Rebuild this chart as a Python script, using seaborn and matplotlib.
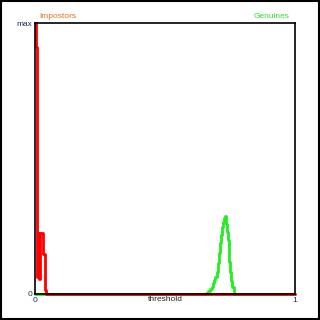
import matplotlib
matplotlib.use("Agg")
import matplotlib.pyplot as plt
import seaborn as sns
import pandas as pd
from matplotlib.patches import Rectangle

# Impostor score distribution (normalised to max)
imp_thr = [0.0, 0.004, 0.008, 0.012, 0.015, 0.019, 0.023, 0.027, 0.031, 0.035, 0.038, 0.042, 0.046, 1.0]
imp_val = [1.0, 0.91, 0.063, 0.225, 0.055, 0.225, 0.225, 0.225, 0.148, 0.148, 0.015, 0.0, 0.0, 0.0]

# Genuine score distribution (normalised to impostor max)
gen_thr = [0.0, 0.658, 0.666, 0.673, 0.679, 0.683, 0.687, 0.694, 0.700, 0.702, 0.707, 0.712,
           0.715, 0.718, 0.723, 0.728, 0.731, 0.734, 0.735, 0.738, 0.743, 0.746, 0.748,
           0.751, 0.754, 0.758, 0.764, 0.766, 1.0]
gen_val = [0.0, 0.003, 0.011, 0.018, 0.027, 0.042, 0.052, 0.064, 0.082, 0.113, 0.15, 0.187,
           0.218, 0.248, 0.267, 0.279, 0.286, 0.279, 0.26, 0.23, 0.2, 0.162, 0.119,
           0.082, 0.049, 0.027, 0.009, 0.0, 0.0]

x_ticks = [0, 1]
x_ticklabels = ["0", "1"]
y_ticks = [0, 1]
y_ticklabels = ["0", "max"]

sns.set_theme(style="white")
plt.rcParams['font.family'] = ['Liberation Sans', 'DejaVu Sans']

fig = plt.figure(figsize=(3.2, 3.2), dpi=100)
fig.patch.set_facecolor("white")
ax = fig.add_axes([35/320, 1 - 294/320, 260/320, 271/320])

gen_df = pd.DataFrame({"threshold": gen_thr, "value": gen_val})
imp_df = pd.DataFrame({"threshold": imp_thr, "value": imp_val})

sns.lineplot(data=gen_df, x="threshold", y="value", ax=ax, color="#22EE22",
             linewidth=2.0, drawstyle="steps-post", sort=False, clip_on=False)
sns.lineplot(data=imp_df, x="threshold", y="value", ax=ax, color="#FF0000",
             linewidth=2.0, drawstyle="steps-post", sort=False, clip_on=False)

ax.set_xlim(0, 1)
ax.set_ylim(0, 1)
ax.set_xticks(x_ticks)
ax.set_xticklabels(x_ticklabels, fontsize=6, color="#1a2a5a")
ax.set_yticks(y_ticks)
ax.set_yticklabels(y_ticklabels, fontsize=6, color="#1a2a5a")
ax.tick_params(axis="both", length=0, pad=2)
ax.set_xlabel("threshold", fontsize=6, labelpad=-5.3, color="#222222")
ax.set_ylabel("")
for s in ax.spines.values():
    s.set_color("black")
    s.set_linewidth(1.2)

ax.text(0.015, 1.01, "Impostors", transform=ax.transAxes, fontsize=6,
        color="#E07020", ha="left", va="bottom")
ax.text(0.98, 1.01, "Genuines", transform=ax.transAxes, fontsize=6,
        color="#33DD33", ha="right", va="bottom")

fig.patches.append(Rectangle((0.003, 0.003), 0.994, 0.994, transform=fig.transFigure,
                             fill=False, edgecolor="black", linewidth=1.5))

fig.savefig("out.png", dpi=100)
